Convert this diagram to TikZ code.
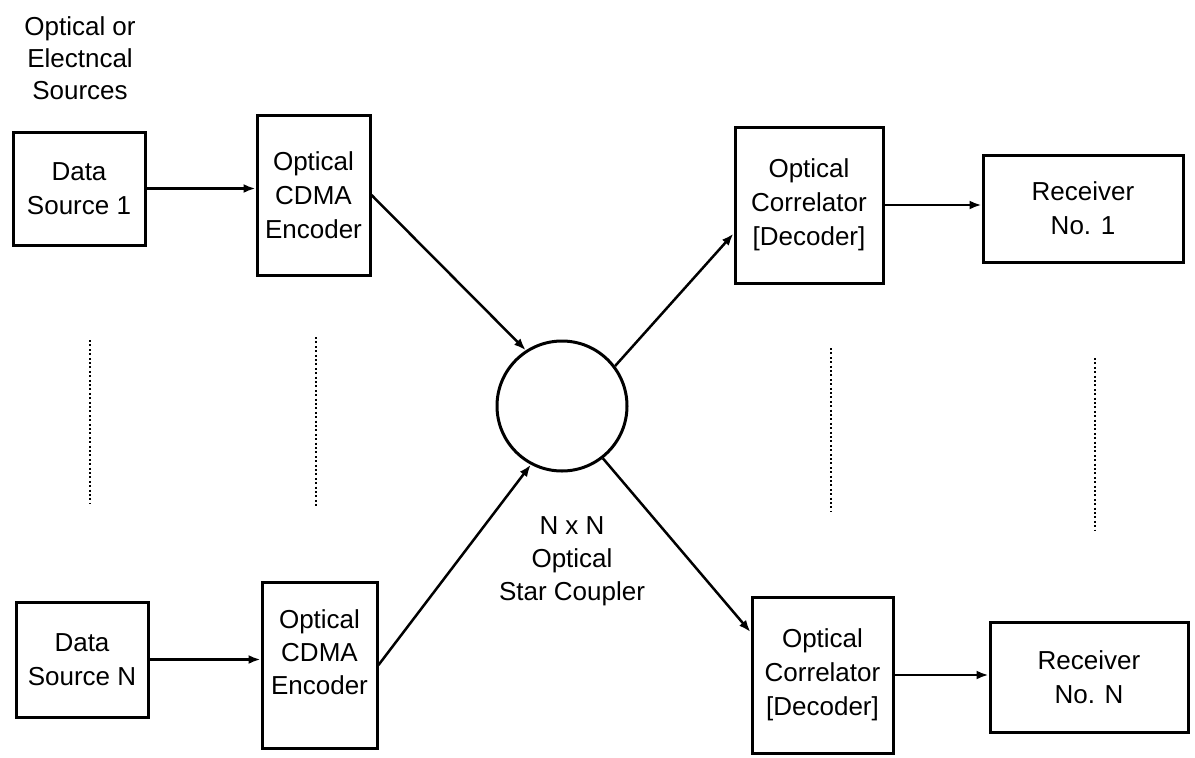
\documentclass[tikz,border=0pt]{standalone}
\usepackage{fontspec}
\setmainfont{Liberation Sans}
\usetikzlibrary{arrows.meta,calc}
\begin{document}
\begin{tikzpicture}[x=1pt,y=-1pt,
  blk/.style={draw=black,line width=3pt,rectangle,inner sep=0pt,align=center,
    font=\fontsize{26}{34}\selectfont},
  txt/.style={inner sep=0pt,align=center,font=\fontsize{26}{33}\selectfont},
  conn/.style={line width=2.5pt,-{Latex[length=12pt,width=9pt]}},
  dots/.style={line width=2.6pt,dash pattern=on 2pt off 2.4pt}]
\useasboundingbox (0,0) rectangle (1195,758);
\fill[white] (0,0) rectangle (1195,758);
% boxes
\node[blk,minimum width=132pt,minimum height=113pt] (ds1) at (79,188.5) {Data\\Source 1};
\node[blk,minimum width=113pt,minimum height=160pt] (enc1) at (313.5,195) {Optical\\CDMA\\Encoder};
\node[blk,minimum width=148pt,minimum height=156pt] (cor1) at (809,205) {Optical\\Correlator\\{[Decoder]}};
\node[blk,minimum width=200pt,minimum height=107pt] (rec1) at (1083,208.5) {Receiver\\No. 1};
\node[blk,minimum width=132pt,minimum height=115pt] (dsN) at (82,659.5) {Data\\Source N};
\node[blk,minimum width=115pt,minimum height=166pt] (encN) at (319.5,665) {};
\node[txt] (encNtxt) at ($(encN.center)+(0,-13)$) {Optical\\CDMA\\Encoder};
\node[blk,minimum width=141pt,minimum height=156pt] (corN) at (822.5,675) {Optical\\Correlator\\{[Decoder]}};
\node[blk,minimum width=198pt,minimum height=110pt] (recN) at (1089,677) {Receiver\\No. N};
% coupler
\node[draw=black,line width=3pt,circle,minimum size=130pt,inner sep=0pt] (coupler) at (562,406) {};
% labels
\node[txt,font=\fontsize{26}{32}\selectfont] (srclabel) at (80,58) {Optical or\\Electncal\\Sources};
\node[txt] (couplerlabel) at (572,561) {N x N\\Optical\\Star Coupler};
% connectors
\draw[conn] (ds1.east) -- (enc1.west |- ds1.east);
\draw[conn] (dsN.east) -- (encN.west |- dsN.east);
\draw[conn] (enc1.east) -- (coupler.123);
\draw[conn] (encN.east) -- (coupler.242);
\coordinate (c1in) at ($(cor1.north west)!0.68!(cor1.south west)$);
\coordinate (cNin) at ($(corN.north west)!0.23!(corN.south west)$);
\draw[conn] (coupler.37) -- (c1in);
\draw[conn] (coupler.308) -- (cNin);
\draw[conn] (cor1.east) -- (rec1.west |- cor1.east);
\draw[conn] (corN.east) -- (recN.west |- corN.east);
% dotted continuation lines
\coordinate (d1a) at (90,340);  \coordinate (d1b) at (90,503);
\coordinate (d2a) at (316,337); \coordinate (d2b) at (316,507);
\coordinate (d3a) at (831,348); \coordinate (d3b) at (831,512);
\coordinate (d4a) at (1095,358); \coordinate (d4b) at (1095,530);
\draw[dots] (d1a) -- (d1b);
\draw[dots] (d2a) -- (d2b);
\draw[dots] (d3a) -- (d3b);
\draw[dots] (d4a) -- (d4b);
\end{tikzpicture}
\end{document}
